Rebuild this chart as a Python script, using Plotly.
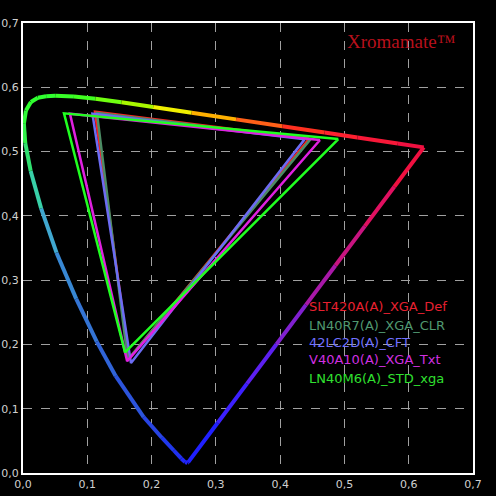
import plotly.graph_objects as go

# CIE 1976 u'v' spectral locus (2 deg observer)
wavelengths = [380, 400, 420, 430, 440, 450, 460, 470, 475, 480, 485, 490, 495, 500, 505,
               510, 515, 520, 525, 530, 540, 550, 560, 570, 580, 590, 600, 610, 620, 640, 700]
locus_u = [0.2568, 0.2557, 0.2522, 0.2461, 0.2347, 0.2161, 0.1877, 0.1441, 0.1147, 0.0828,
           0.0521, 0.0282, 0.0119, 0.0035, 0.0014, 0.0046, 0.0123, 0.0231, 0.0360, 0.0501,
           0.0792, 0.1127, 0.1531, 0.2026, 0.2623, 0.3315, 0.4035, 0.4692, 0.5203, 0.5830, 0.6234]
locus_v = [0.0166, 0.0159, 0.0169, 0.0226, 0.0350, 0.0549, 0.0871, 0.1510, 0.2044, 0.2708,
           0.3427, 0.4117, 0.4698, 0.5131, 0.5432, 0.5638, 0.5770, 0.5837, 0.5861, 0.5868,
           0.5856, 0.5821, 0.5766, 0.5694, 0.5604, 0.5501, 0.5393, 0.5296, 0.5219, 0.5125, 0.5065]
locus_colors = ["#2020ff", "#2020ff", "#2024fc", "#2028f8", "#2030f0", "#2038ec", "#2844e4",
                "#2c54dc", "#3064d8", "#3474d4", "#3888d4", "#40a8d0", "#38d0a8", "#30e070",
                "#30f048", "#30f838", "#30ff30", "#30ff30", "#30ff30", "#30ff30", "#38ff28",
                "#40ff20", "#70ff10", "#a8f800", "#f0f000", "#ffb000", "#ff6018", "#ff3020",
                "#ff2030", "#f81838", "#f01040"]
purple_colors = ["#f01040", "#e01060", "#c81480", "#a818a8", "#8020d0", "#5c20f0", "#3c20ff", "#2020ff"]

series_names = ["SLT420A(A)_XGA_Def", "LN40R7(A)_XGA_CLR", "42LC2D(A)_CFT",
                "V40A10(A)_XGA_Txt", "LN40M6(A)_STD_xga"]
series_u = [[0.445, 0.112, 0.165], [0.447, 0.115, 0.163], [0.438, 0.108, 0.168],
            [0.462, 0.073, 0.162], [0.4905, 0.0638, 0.1587]]
series_v = [[0.520, 0.562, 0.178], [0.519, 0.560, 0.176], [0.519, 0.559, 0.171],
            [0.518, 0.559, 0.174], [0.5195, 0.5595, 0.1877]]
series_colors = ["#ff2020", "#4c8c64", "#6c6cf4", "#e020e0", "#20ff20"]
label_colors = ["#e82030", "#509870", "#7070ff", "#d030e0", "#30e030"]

tick_vals = [0.0, 0.1, 0.2, 0.3, 0.4, 0.5, 0.6, 0.7]
tick_text = ["0,0", "0,1", "0,2", "0,3", "0,4", "0,5", "0,6", "0,7"]

fig = go.Figure()

# spectral locus, drawn as coloured segments
for i in range(len(wavelengths) - 1):
    fig.add_trace(go.Scatter(
        x=[locus_u[i], locus_u[i + 1]], y=[locus_v[i], locus_v[i + 1]],
        mode="lines", line=dict(color=locus_colors[i + 1], width=4),
        hoverinfo="skip", showlegend=False))

# purple line (700 nm -> 380 nm), coloured in pieces
n = len(purple_colors)
u0, v0 = locus_u[-1], locus_v[-1]
u1, v1 = locus_u[0], locus_v[0]
for k in range(n):
    t0, t1 = k / n, (k + 1) / n
    fig.add_trace(go.Scatter(
        x=[u0 + (u1 - u0) * t0, u0 + (u1 - u0) * t1],
        y=[v0 + (v1 - v0) * t0, v0 + (v1 - v0) * t1],
        mode="lines", line=dict(color=purple_colors[k], width=4),
        hoverinfo="skip", showlegend=False))

# gamut triangles
for name, us, vs, col in zip(series_names, series_u, series_v, series_colors):
    fig.add_trace(go.Scatter(
        x=us + [us[0]], y=vs + [vs[0]], mode="lines", name=name,
        line=dict(color=col, width=2.5), showlegend=False))

# legend as text
label_v = [0.2587, 0.2302, 0.2026, 0.1758, 0.1473]
for name, col, lv in zip(series_names, label_colors, label_v):
    fig.add_annotation(x=0.4418, y=lv, xref="x", yref="y", text=name, showarrow=False,
                       xanchor="left", yanchor="middle",
                       font=dict(family="DejaVu Sans", size=13, color=col))

fig.add_annotation(x=0.588, y=0.672, xref="x", yref="y", text="Xromamate™", showarrow=False,
                   xanchor="center", yanchor="middle",
                   font=dict(family="Liberation Serif", size=19, color="#b8101c"))

axis_common = dict(range=[0, 0.7], tickvals=tick_vals, ticktext=tick_text,
                   showgrid=True, gridcolor="#a0a0a0", gridwidth=1, griddash="dash",
                   zeroline=False, showline=True, linecolor="white", linewidth=2,
                   mirror=True, ticks="", automargin=False,
                   tickfont=dict(family="DejaVu Sans", size=11, color="#d0d0d0"))

fig.update_layout(
    width=496, height=496,
    margin=dict(l=23, r=23, t=23, b=23),
    paper_bgcolor="black", plot_bgcolor="black",
    xaxis=dict(**axis_common),
    yaxis=dict(**axis_common),
    showlegend=False,
)

fig.write_html("out.html", config={"displayModeBar": False},
               post_script="document.body.style.margin='0px';document.body.style.background='black';")
